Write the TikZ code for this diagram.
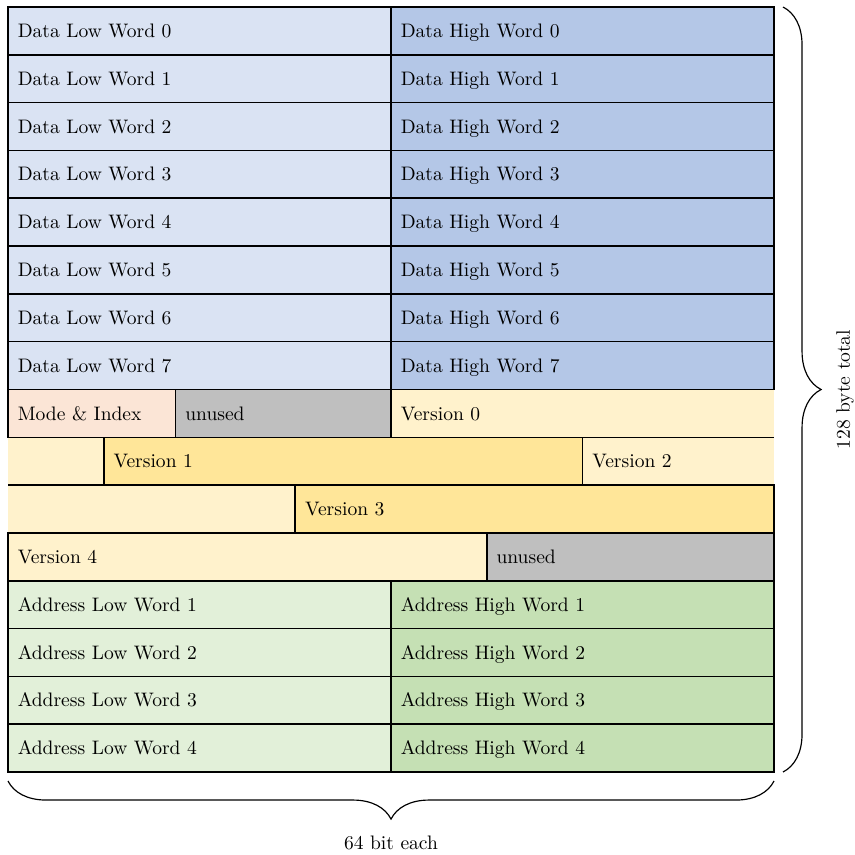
\documentclass[tikz,border=0pt]{standalone}
\usetikzlibrary{decorations.pathreplacing,calc}

\definecolor{dlow}{HTML}{DAE3F3}
\definecolor{dhigh}{HTML}{B4C7E7}
\definecolor{modecol}{HTML}{FBE5D6}
\definecolor{unusedcol}{HTML}{BFBFBF}
\definecolor{vlight}{HTML}{FFF2CC}
\definecolor{vdark}{HTML}{FFE699}
\definecolor{alow}{HTML}{E2F0D9}
\definecolor{ahigh}{HTML}{C5E0B4}

\begin{document}
\begin{tikzpicture}[x=0.512pt, y=-0.512pt,
  % one field of the layout, #1 = width in bits (64 bits per row)
  field/.style={rectangle, anchor=north west, inner xsep=5pt, inner ysep=0pt, outer sep=0pt,
    minimum height=24.48pt, minimum width={#1*6.128pt}, text width={#1*6.128pt-10pt},
    align=left, text height=6.8pt, text depth=0pt},
  boxed/.style={field=#1, draw, thick},
  edge/.style={thick},
  bracket/.style={decorate, decoration={brace, amplitude=19.5pt}, semithick}
]
\useasboundingbox (0,0) rectangle (855,854);

% data words
\foreach \i in {0,...,7} {
  \node[boxed=32, fill=dlow] (dl\i) at (8,{7+\i*47.8125}) {Data Low Word \i};
  \node[boxed=32, fill=dhigh] (dh\i) at (dl\i.north east) {Data High Word \i};
}

% mode, index and versions
\node[boxed=14, fill=modecol] (mode) at (8,{7+8*47.8125}) {Mode \& Index};
\node[boxed=18, fill=unusedcol] (unA) at (mode.north east) {unused};
\node[field=32, fill=vlight] (v0a) at (unA.north east) {Version 0};
\draw[edge] (v0a.north east) -- (v0a.north west) -- (v0a.south west) -- (v0a.south east);

\node[field=8, fill=vlight] (v0b) at (8,{7+9*47.8125}) {};
\draw[edge] (v0b.north west) -- (v0b.north east) -- (v0b.south east) -- (v0b.south west);
\node[boxed=40, fill=vdark] (v1) at (v0b.north east) {Version 1};
\node[field=16, fill=vlight] (v2a) at (v1.north east) {Version 2};
\draw[edge] (v2a.north east) -- (v2a.north west) -- (v2a.south west) -- (v2a.south east);

\node[field=24, fill=vlight] (v2b) at (8,{7+10*47.8125}) {};
\draw[edge] (v2b.north west) -- (v2b.north east) -- (v2b.south east) -- (v2b.south west);
\node[boxed=40, fill=vdark] (v3) at (v2b.north east) {Version 3};

\node[boxed=40, fill=vlight] (v4) at (8,{7+11*47.8125}) {Version 4};
\node[boxed=24, fill=unusedcol] (unB) at (v4.north east) {unused};

% address words
\foreach \i in {1,...,4} {
  \node[boxed=32, fill=alow] (al\i) at (8,{7+(11+\i)*47.8125}) {Address Low Word \i};
  \node[boxed=32, fill=ahigh] (ah\i) at (al\i.north east) {Address High Word \i};
}

% size annotations
\coordinate (rtop) at ($(dh0.north east)+(9,0)$);
\coordinate (rbot) at ($(ah4.south east)+(9,0)$);
\draw[bracket] (rtop) -- (rbot);
\node[rotate=90] (total) at ($(rtop)!0.5!(rbot)+(62,0)$) {128 byte total};

\coordinate (bright) at ($(ah4.south east)+(0,9)$);
\coordinate (bleft) at ($(al4.south west)+(0,9)$);
\draw[bracket] (bright) -- (bleft);
\node (each) at ($(bright)!0.5!(bleft)+(0,62)$) {64 bit each};
\end{tikzpicture}
\end{document}
